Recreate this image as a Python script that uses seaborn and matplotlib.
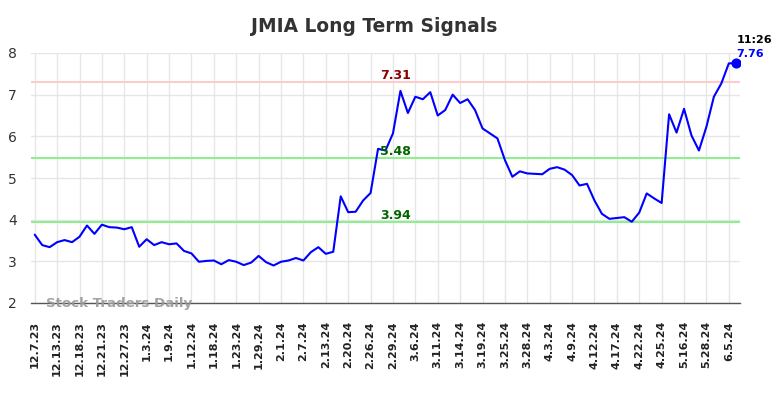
import numpy as np
import pandas as pd
import matplotlib
matplotlib.use("Agg")
import matplotlib.pyplot as plt
import seaborn as sns

# closing values, one per trading day
values = [
    3.64, 3.39, 3.34, 3.46, 3.51, 3.46, 3.59, 3.86, 3.66, 3.88,
    3.82, 3.81, 3.77, 3.82, 3.35, 3.53, 3.39, 3.46, 3.41, 3.43,
    3.25, 3.19, 2.99, 3.01, 3.02, 2.93, 3.03, 2.99, 2.91, 2.97,
    3.13, 2.98, 2.90, 2.99, 3.02, 3.08, 3.02, 3.22, 3.34, 3.18,
    3.23, 4.56, 4.18, 4.19, 4.46, 4.64, 5.70, 5.66, 6.07, 7.09,
    6.56, 6.95, 6.89, 7.06, 6.50, 6.63, 7.00, 6.80, 6.89, 6.63,
    6.19, 6.07, 5.95, 5.43, 5.03, 5.16, 5.11, 5.10, 5.09, 5.22,
    5.26, 5.20, 5.07, 4.82, 4.86, 4.46, 4.14, 4.02, 4.04, 4.06,
    3.95, 4.17, 4.63, 4.51, 4.40, 6.53, 6.09, 6.66, 6.02, 5.66,
    6.23, 6.95, 7.27, 7.75, 7.76,
]

tick_labels = [
    "12.7.23", "12.13.23", "12.18.23", "12.21.23", "12.27.23", "1.3.24",
    "1.9.24", "1.12.24", "1.18.24", "1.23.24", "1.29.24", "2.1.24",
    "2.7.24", "2.13.24", "2.20.24", "2.26.24", "2.29.24", "3.6.24",
    "3.11.24", "3.14.24", "3.19.24", "3.25.24", "3.28.24", "4.3.24",
    "4.9.24", "4.12.24", "4.17.24", "4.22.24", "4.25.24", "5.16.24",
    "5.28.24", "6.5.24",
]

upper_level = 7.31
mid_level = 5.48
lower_level = 3.94
last_time = "11:26"

df = pd.DataFrame({"idx": np.arange(len(values)), "price": values})

sns.set_style("whitegrid")
plt.rcParams["font.family"] = ["DejaVu Sans"]

fig = plt.figure(figsize=(7.84, 3.98), dpi=100)
ax = fig.add_axes([31 / 784, 1 - 303 / 398, 709 / 784, 250 / 398])

ax.axhline(upper_level, color="#ffcccc", lw=1.5, zorder=1)
ax.axhline(mid_level, color="#90ee90", lw=1.5, zorder=1)
ax.axhline(lower_level, color="#90ee90", lw=1.5, zorder=1)

sns.lineplot(data=df, x="idx", y="price", color="#0000ff", lw=1.5, ax=ax, zorder=3)
last_i = len(values) - 1
ax.scatter([last_i], [values[-1]], color="#0000ff", s=40, zorder=4)

lbl_x = 48.3
ax.text(lbl_x, upper_level, f"{upper_level:.2f}", color="#8b0000",
        fontsize=9, fontweight="bold", ha="center", va="bottom")
ax.text(lbl_x, mid_level + 0.01, f"{mid_level:.2f}", color="#006400",
        fontsize=9, fontweight="bold", ha="center", va="bottom")
ax.text(lbl_x, lower_level + 0.01, f"{lower_level:.2f}", color="#006400",
        fontsize=9, fontweight="bold", ha="center", va="bottom")

ax.text(last_i, values[-1] + 0.43, last_time, color="black", fontsize=8,
        fontweight="bold", ha="left", va="bottom", clip_on=False)
ax.text(last_i, values[-1] + 0.1, f"{values[-1]:.2f}", color="#0000ff",
        fontsize=8, fontweight="bold", ha="left", va="bottom", clip_on=False)

ax.text(1.5, 2.0, "Stock Traders Daily", color="#999999", fontsize=9.6,
        fontweight="bold", ha="left", va="center", alpha=0.9, zorder=5)

ax.set_xlim(-0.5, last_i + 0.5)
ax.set_ylim(2, 8)
ax.set_yticks(range(2, 9))
ax.set_xticks(np.arange(0, len(tick_labels) * 3, 3))
ax.set_xticklabels(tick_labels, rotation=90, fontsize=8, fontweight="bold",
                   color="#222222")
ax.tick_params(axis="y", labelsize=10, colors="#333333", length=0, pad=10)
ax.tick_params(axis="x", length=0, pad=13)
ax.set_xlabel("")
ax.set_ylabel("")
ax.grid(True, color="#e6e6e6", lw=1)

for side in ["top", "right", "left"]:
    ax.spines[side].set_visible(False)
ax.spines["bottom"].set_color("#555555")
ax.spines["bottom"].set_linewidth(1)

fig.text(374 / 784, 1 - 27 / 398, "JMIA Long Term Signals", ha="center",
         va="center", fontsize=13.4, fontweight="bold", color="#333333")

fig.savefig("out.png", dpi=100)
plt.close(fig)
